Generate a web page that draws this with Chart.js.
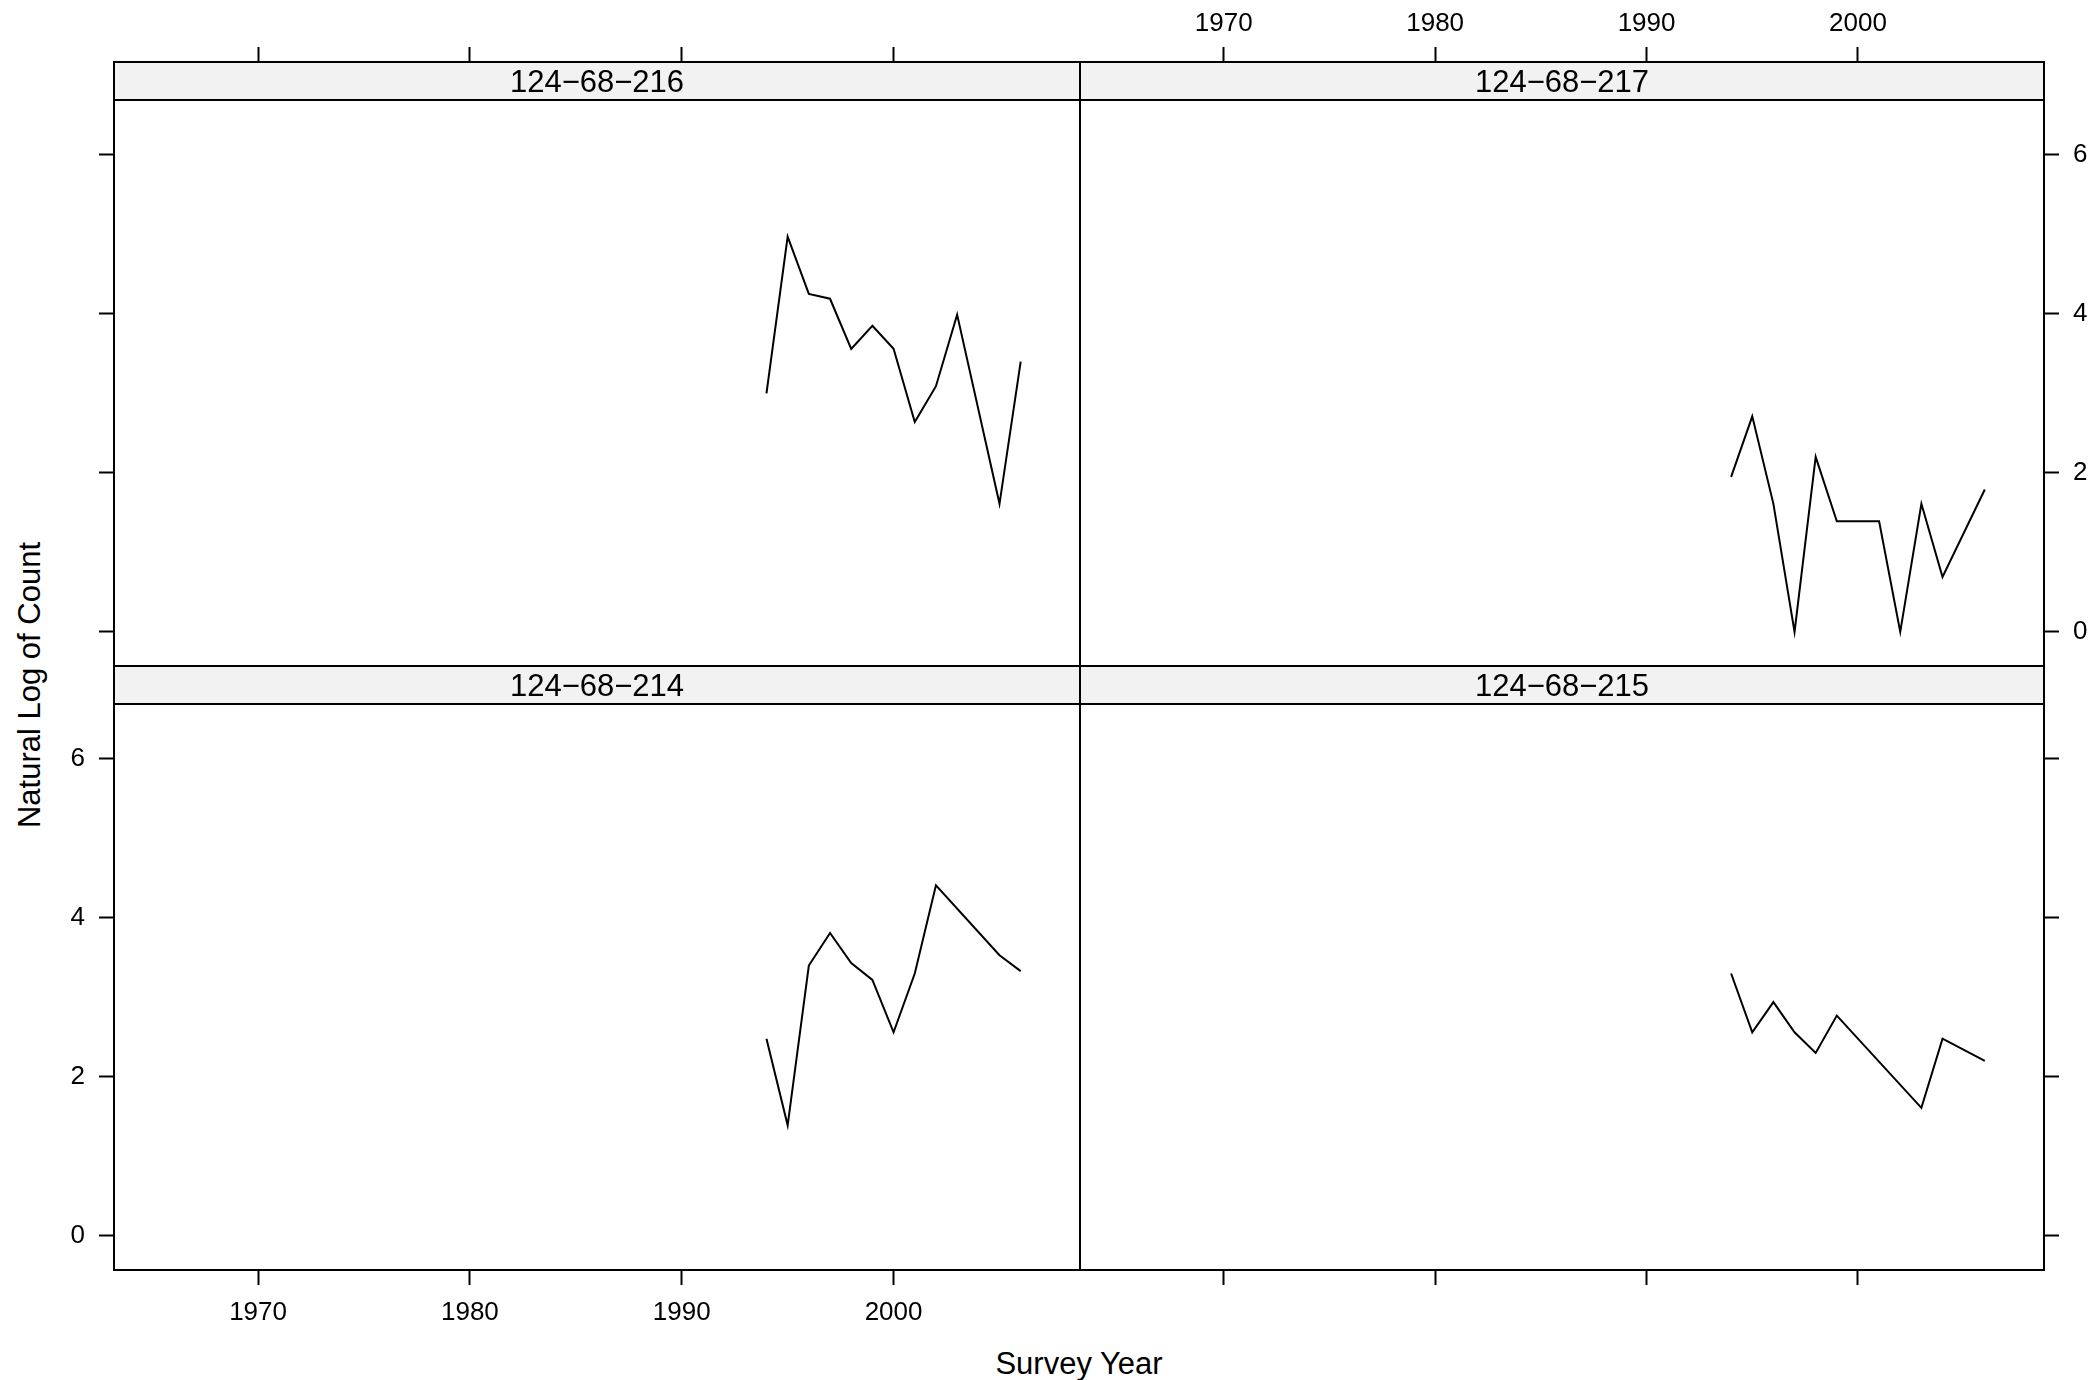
<!DOCTYPE html>
<html>
<head>
<meta charset="utf-8">
<script src="https://cdn.jsdelivr.net/npm/chart.js@4/dist/chart.umd.min.js"></script>
<style>
  html, body { margin: 0; padding: 0; background: #fff; }
  #wrap { position: relative; width: 2096px; height: 1380px; overflow: hidden; font-family: "Liberation Sans", Arial, sans-serif; }
  #wrap canvas { position: absolute; left: 0; top: 0; }
  .ttl { position: absolute; font-size: 31px; color: #000; white-space: nowrap; transform: translate(-50%, -50%); }
</style>
</head>
<body>
<div id="wrap">
  <div class="ttl" style="left:1079px; top:1364px;">Survey Year</div>
  <div class="ttl" style="left:30px; top:685px; transform: translate(-50%, -50%) rotate(-90deg);">Natural Log of Count</div>
</div>
<script>
// ---- data (natural log of count) ----
var xTicks = [1970, 1980, 1990, 2000];
var yTicks = [0, 2, 4, 6];

var years216 = [1994, 1995, 1996, 1997, 1998, 1999, 2000, 2001, 2002, 2003, 2005, 2006];
var logs216  = [3.00, 4.97, 4.25, 4.19, 3.56, 3.85, 3.56, 2.64, 3.09, 3.99, 1.61, 3.40];

var years217 = [1994, 1995, 1996, 1997, 1998, 1999, 2000, 2001, 2002, 2003, 2004, 2006];
var logs217  = [1.95, 2.71, 1.61, 0.00, 2.20, 1.39, 1.39, 1.39, 0.00, 1.61, 0.69, 1.79];

var years214 = [1994, 1995, 1996, 1997, 1998, 1999, 2000, 2001, 2002, 2005, 2006];
var logs214  = [2.48, 1.39, 3.40, 3.81, 3.43, 3.22, 2.56, 3.30, 4.41, 3.53, 3.33];

var years215 = [1994, 1995, 1996, 1997, 1998, 1999, 2003, 2004, 2006];
var logs215  = [3.30, 2.56, 2.94, 2.56, 2.30, 2.77, 1.61, 2.48, 2.20];

var stripLabels = ['124\u221268\u2212216', '124\u221268\u2212217', '124\u221268\u2212214', '124\u221268\u2212215'];

// ---- layout ----
var W = 2096, H = 1380;
var X_MIN = 1963.2, X_MAX = 2008.8;
var Y_LO = -0.43, Y_HI = 6.69;
var STRIP = 38, DATA_H = 566;
var colL = [114, 1080], colR = [1080, 2044];
var rowT = [62, 666], rowB = [666, 1270];
var FONT = '"Liberation Sans", Arial, sans-serif';

// scale max includes the strip sitting on top of the data area
var yMaxWithStrip = Y_HI + (Y_HI - Y_LO) * STRIP / DATA_H;

var panelBox = {
  id: 'panelBox',
  afterDatasetsDraw: function (chart) {
    var a = chart.chartArea;
    var c = chart.ctx;
    var lab = chart.options.plugins.panelBox.label;
    c.save();
    c.fillStyle = '#f2f2f2';
    c.fillRect(a.left, a.top, a.right - a.left, STRIP);
    c.strokeStyle = '#000';
    c.lineWidth = 2;
    c.beginPath();
    c.moveTo(a.left, a.top + STRIP);
    c.lineTo(a.right, a.top + STRIP);
    c.stroke();
    c.strokeRect(a.left, a.top, a.right - a.left, a.bottom - a.top);
    c.fillStyle = '#000';
    c.font = '31px ' + FONT;
    c.textAlign = 'center';
    c.textBaseline = 'alphabetic';
    c.fillText(lab, (a.left + a.right) / 2, a.top + STRIP / 2 + 11);
    c.restore();
  }
};

function points(xs, ys) {
  var out = [];
  for (var i = 0; i < xs.length; i++) out.push({ x: xs[i], y: ys[i] });
  return out;
}

function makePanel(spec) {
  var cv = document.createElement('canvas');
  cv.width = W;
  cv.height = H;
  cv.style.width = W + 'px';
  cv.style.height = H + 'px';
  document.getElementById('wrap').appendChild(cv);

  var tickFont = { family: FONT, size: 26 };
  var grid = { display: true, drawOnChartArea: false, drawTicks: true, tickLength: 15, tickWidth: 2, tickColor: '#000' };

  return new Chart(cv.getContext('2d'), {
    type: 'line',
    data: {
      datasets: [{
        data: points(spec.years, spec.vals),
        borderColor: '#000',
        borderWidth: 2,
        pointRadius: 0,
        tension: 0,
        fill: false
      }]
    },
    options: {
      responsive: false,
      animation: false,
      events: [],
      layout: { padding: spec.pad },
      plugins: {
        legend: { display: false },
        tooltip: { enabled: false },
        panelBox: { label: spec.label }
      },
      scales: {
        x: {
          type: 'linear',
          position: spec.xPos,
          min: X_MIN,
          max: X_MAX,
          afterBuildTicks: function (s) { s.ticks = xTicks.map(function (v) { return { value: v }; }); },
          afterFit: function (s) { s.height = spec.xSize; },
          grid: grid,
          border: { display: true, color: '#000', width: 2 },
          ticks: { display: spec.xLab, font: tickFont, color: '#000', padding: spec.xPad, maxRotation: 0, autoSkip: false,
                   callback: function (v) { return String(v); } }
        },
        y: {
          type: 'linear',
          position: spec.yPos,
          min: Y_LO,
          max: yMaxWithStrip,
          afterBuildTicks: function (s) { s.ticks = yTicks.map(function (v) { return { value: v }; }); },
          afterFit: function (s) { s.width = spec.ySize; },
          grid: grid,
          border: { display: true, color: '#000', width: 2 },
          ticks: { display: spec.yLab, font: tickFont, color: '#000', padding: 14, autoSkip: false,
                   callback: function (v) { return String(v); } }
        }
      }
    },
    plugins: [panelBox]
  });
}

// top-left: 216
makePanel({
  label: stripLabels[0], years: years216, vals: logs216,
  xPos: 'top', xLab: false, xSize: 15, xPad: 8, yPos: 'left', yLab: false, ySize: 15,
  pad: { top: rowT[0] - 15, left: colL[0] - 15, right: W - colL[1], bottom: H - rowT[1] }
});
// top-right: 217
makePanel({
  label: stripLabels[1], years: years217, vals: logs217,
  xPos: 'top', xLab: true, xSize: 60, xPad: 8, yPos: 'right', yLab: true, ySize: 52,
  pad: { top: rowT[0] - 60, left: colR[0], right: W - colR[1] - 52, bottom: H - rowT[1] }
});
// bottom-left: 214
makePanel({
  label: stripLabels[2], years: years214, vals: logs214,
  xPos: 'bottom', xLab: true, xSize: 70, xPad: 12, yPos: 'left', yLab: true, ySize: 80,
  pad: { top: rowB[0], left: colL[0] - 80, right: W - colL[1], bottom: H - rowB[1] - 70 }
});
// bottom-right: 215
makePanel({
  label: stripLabels[3], years: years215, vals: logs215,
  xPos: 'bottom', xLab: false, xSize: 15, xPad: 12, yPos: 'right', yLab: false, ySize: 15,
  pad: { top: rowB[0], left: colR[0], right: W - colR[1] - 15, bottom: H - rowB[1] - 15 }
});
</script>
</body>
</html>
